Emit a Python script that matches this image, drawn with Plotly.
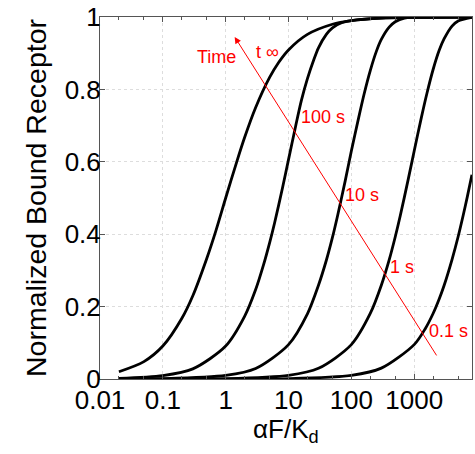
import numpy as np
import plotly.graph_objects as go

# ---- data (x = alpha*F/Kd, y = normalized bound receptor)
x_inf = [0.02, 0.05, 0.1, 0.2, 0.3, 0.5, 0.7, 1, 1.5, 2, 3, 5, 7, 10, 20, 50, 100, 300, 1000, 8300]
y_inf = [0.02, 0.048, 0.091, 0.167, 0.23, 0.333, 0.41, 0.5, 0.6, 0.667, 0.75, 0.833, 0.875, 0.909,
         0.952, 0.98, 0.99, 0.997, 0.999, 1.0]

x_100s = [0.02, 0.1, 0.3, 1, 2, 3, 4, 5, 6, 8, 10, 13, 16, 20, 25, 30, 40, 50, 70, 100, 300, 1000, 8300]
y_100s = [0.002, 0.0095, 0.028, 0.091, 0.173, 0.247, 0.315, 0.376, 0.431, 0.527, 0.606, 0.699, 0.769,
          0.83, 0.88, 0.915, 0.952, 0.97, 0.984, 0.99, 0.997, 0.999, 1.0]

x_10s = [0.02, 0.1, 1, 3, 10, 20, 30, 40, 50, 60, 80, 100, 130, 160, 200, 250, 300, 400, 500, 700,
         1000, 8300]
y_10s = [0.0002, 0.001, 0.0099, 0.029, 0.095, 0.18, 0.259, 0.328, 0.391, 0.449, 0.548, 0.63, 0.72,
         0.788, 0.852, 0.905, 0.938, 0.972, 0.987, 0.997, 0.999, 1.0]

x_1s = [0.02, 1, 10, 30, 100, 200, 300, 400, 500, 600, 800, 1000, 1300, 1600, 2000, 2500, 3000,
        4000, 5000, 8300]
y_1s = [0.00002, 0.001, 0.01, 0.0295, 0.095, 0.181, 0.259, 0.329, 0.393, 0.451, 0.55, 0.63, 0.722,
        0.79, 0.855, 0.908, 0.94, 0.975, 0.989, 0.999]

x_01s = [0.02, 10, 100, 300, 1000, 1500, 2000, 2500, 3000, 4000, 5000, 6000, 7000, 8300]
y_01s = [0.000002, 0.001, 0.01, 0.03, 0.095, 0.139, 0.181, 0.221, 0.259, 0.33, 0.393, 0.451, 0.503, 0.564]

curves = [(x_inf, y_inf), (x_100s, y_100s), (x_10s, y_10s), (x_1s, y_1s), (x_01s, y_01s)]

# red "Time" arrow: tail -> head
arrow_x = [2350, 1.39]
arrow_y = [0.061, 0.945]

# red labels
label_text = ["Time", "t \u221e", "100 s", "10 s", "1 s", "0.1 s"]
label_x = [0.71, 4.56, 36.0, 147, 630, 3470]
label_y = [0.889, 0.904, 0.724, 0.508, 0.31, 0.133]

x_tickvals = [0.01, 0.1, 1, 10, 100, 1000]
x_ticktext = ["0.01", "0.1", "1", "10", "100", "1000"]
y_tickvals = [0, 0.2, 0.4, 0.6, 0.8, 1]
y_ticktext = ["0", "0.2", "0.4", "0.6", "0.8", "1"]

FONT = "Arial, Liberation Sans, sans-serif"
AXIS_GRAY = "#555555"

fig = go.Figure()
for cx, cy in curves:
    fig.add_trace(go.Scatter(x=cx, y=cy, mode="lines",
                             line=dict(color="black", width=2.8, shape="spline", smoothing=0.8),
                             showlegend=False, hoverinfo="skip"))

# invisible helper trace so the top (mirrored) log axis with minor ticks is drawn
fig.add_trace(go.Scatter(x=x_inf, y=y_inf, xaxis="x2", mode="lines", line=dict(width=0),
                         opacity=0, showlegend=False, hoverinfo="skip"))

fig.add_annotation(x=np.log10(arrow_x[1]), y=arrow_y[1], ax=np.log10(arrow_x[0]), ay=arrow_y[0],
                   xref="x", yref="y", axref="x", ayref="y", text="", showarrow=True,
                   arrowhead=2, arrowsize=1.3, arrowwidth=1, arrowcolor="red")

for t, lx, ly in zip(label_text, label_x, label_y):
    fig.add_annotation(x=np.log10(lx), y=ly, xref="x", yref="y", text=t, showarrow=False,
                       font=dict(family=FONT, size=18, color="red"))

# axis titles
fig.add_annotation(x=-0.172, y=0.5, xref="paper", yref="paper", text="Normalized Bound Receptor",
                   textangle=-90, showarrow=False, xanchor="center", yanchor="middle",
                   font=dict(family=FONT, size=28.5, color="black"))
fig.add_annotation(x=0.5, y=-0.09, xref="paper", yref="paper", text="\u03b1F/K<sub>d</sub>",
                   showarrow=False, xanchor="center", yanchor="top",
                   font=dict(family=FONT, size=26, color="black"))

axis_common = dict(showline=True, linecolor=AXIS_GRAY, linewidth=1, mirror="ticks",
                   ticks="inside", ticklen=5, tickcolor=AXIS_GRAY, automargin=False,
                   showgrid=True, gridcolor="#dddddd", griddash="dot", gridwidth=1,
                   zeroline=False, tickfont=dict(family=FONT, size=26, color="black"))

fig.update_layout(
    xaxis=dict(type="log", range=[-2, 3.92], tickvals=x_tickvals, ticktext=x_ticktext,
               minor=dict(ticks="inside", ticklen=3, tickcolor=AXIS_GRAY, showgrid=False),
               ticklabelstandoff=-2, **axis_common),
    xaxis2=dict(type="log", range=[-2, 3.92], overlaying="x", side="top", anchor="y",
                tickvals=x_tickvals, showticklabels=False, ticks="inside", ticklen=5,
                tickcolor=AXIS_GRAY, showgrid=False, showline=False, zeroline=False,
                automargin=False,
                minor=dict(ticks="inside", ticklen=3, tickcolor=AXIS_GRAY, showgrid=False)),
    yaxis=dict(range=[0, 1], tickvals=y_tickvals, ticktext=y_ticktext,
               ticklabelstandoff=-7, **axis_common),
    width=475, height=454, margin=dict(l=100, r=3, t=17, b=75),
    plot_bgcolor="white", paper_bgcolor="white",
    font=dict(family=FONT, color="black"))

fig.write_html("out.html", config={"displayModeBar": False},
               post_script="document.body.style.margin='0px';document.body.style.overflow='hidden';")
